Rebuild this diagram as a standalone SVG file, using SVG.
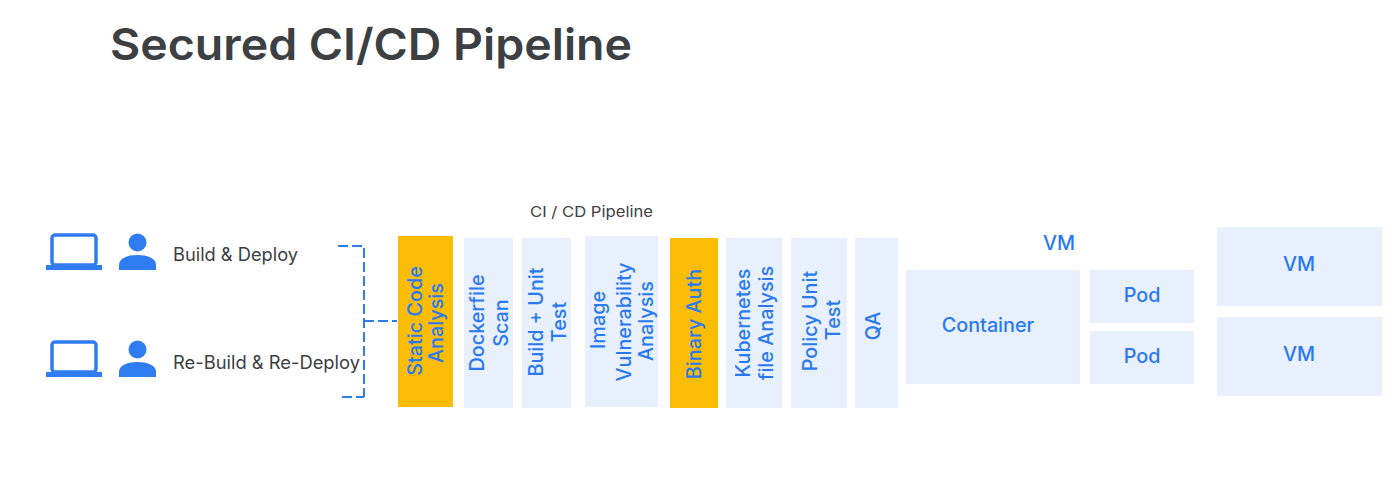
<svg xmlns="http://www.w3.org/2000/svg" width="1400" height="501" viewBox="0 0 1400 501">
<style>
text{font-family:"Inter","Noto Sans","Liberation Sans",sans-serif}
.title{font-size:44px;font-weight:600;fill:#3c4043}
.dark{font-size:18px;fill:#3c4043}
.small{font-size:15px;fill:#3c4043}
.b{font-size:19.800px;font-weight:500;fill:#2979f2;text-anchor:middle}
.pale{fill:#e8f0fd}
.gold{fill:#fbbc04}
.ic{fill:#2f7cf0}
.icl{fill:none;stroke:#2f7cf0;stroke-width:3.500}
.dash{fill:none;stroke:#2f7cf0;stroke-width:2;stroke-dasharray:10 4}
</style>
<defs>
<g id="laptop"><rect class="icl" x="6" y="2" width="44" height="30" rx="3"/><rect class="ic" x="0" y="32" width="56" height="5"/></g>
<g id="person"><circle class="ic" cx="18.500" cy="9.500" r="9"/><path class="ic" d="M0 37V32C0 25 9 22 18.500 22S37 25 37 32V37Z"/></g>
</defs>
<rect width="1400" height="501" fill="#fff"/>
<text id="title" class="title" x="110" y="60" textLength="522" lengthAdjust="spacingAndGlyphs">Secured CI/CD Pipeline</text>
<text id="pipeline-label" class="small" x="530" y="217" textLength="123" lengthAdjust="spacingAndGlyphs">CI / CD Pipeline</text>
<g id="build-deploy"><use href="#laptop" x="46" y="233"/><use href="#person" x="119" y="233"/><text class="dark" x="173" y="261" textLength="125" lengthAdjust="spacingAndGlyphs">Build &amp; Deploy</text></g>
<g id="rebuild-redeploy"><use href="#laptop" x="46" y="340"/><use href="#person" x="119" y="340"/><text class="dark" x="173" y="369" textLength="187" lengthAdjust="spacingAndGlyphs">Re-Build &amp; Re-Deploy</text></g>
<g id="connectors">
<path class="dash" d="M338 246H364V397"/>
<path class="dash" d="M342 397H364"/>
<path class="dash" d="M364 321H397"/>
</g>
<g id="static-code"><rect class="gold" x="398" y="236" width="55" height="171"/><text class="b" transform="translate(422 321) rotate(-90)">Static Code</text><text class="b" transform="translate(443 323) rotate(-90)">Analysis</text></g>
<g id="dockerfile-scan"><rect class="pale" x="464" y="238" width="49" height="170"/><text class="b" transform="translate(484 323) rotate(-90)">Dockerfile</text><text class="b" transform="translate(508 323) rotate(-90)">Scan</text></g>
<g id="build-unit"><rect class="pale" x="522" y="238" width="49" height="170"/><text class="b" transform="translate(543 322) rotate(-90)">Build + Unit</text><text class="b" transform="translate(566 322) rotate(-90)">Test</text></g>
<g id="image-vuln"><rect class="pale" x="585" y="236" width="73" height="171"/><text class="b" transform="translate(605 320) rotate(-90)">Image</text><text class="b" transform="translate(631 322) rotate(-90)">Vulnerability</text><text class="b" transform="translate(653 321) rotate(-90)">Analysis</text></g>
<g id="binary-auth"><rect class="gold" x="670" y="238" width="48" height="170"/><text class="b" transform="translate(701 324) rotate(-90)">Binary Auth</text></g>
<g id="kubernetes"><rect class="pale" x="726" y="238" width="56" height="170"/><text class="b" transform="translate(750 323) rotate(-90)">Kubernetes</text><text class="b" transform="translate(773 323) rotate(-90)">file Analysis</text></g>
<g id="policy-unit"><rect class="pale" x="791" y="238" width="56" height="170"/><text class="b" transform="translate(817 321) rotate(-90)">Policy Unit</text><text class="b" transform="translate(840 320) rotate(-90)">Test</text></g>
<g id="qa"><rect class="pale" x="855" y="238" width="43" height="170"/><text class="b" transform="translate(880 326) rotate(-90)">QA</text></g>
<g id="vm-label"><text class="b" x="1059" y="250">VM</text></g>
<g id="container"><rect class="pale" x="906" y="270" width="174" height="114"/><text class="b" x="988" y="332">Container</text></g>
<g id="pod-1"><rect class="pale" x="1090" y="270" width="104" height="53"/><text class="b" x="1142" y="302">Pod</text></g>
<g id="pod-2"><rect class="pale" x="1090" y="331" width="104" height="53"/><text class="b" x="1142" y="363">Pod</text></g>
<g id="vm-1"><rect class="pale" x="1217" y="227" width="165" height="79"/><text class="b" x="1299" y="271">VM</text></g>
<g id="vm-2"><rect class="pale" x="1217" y="317" width="165" height="79"/><text class="b" x="1299" y="361">VM</text></g>
</svg>
